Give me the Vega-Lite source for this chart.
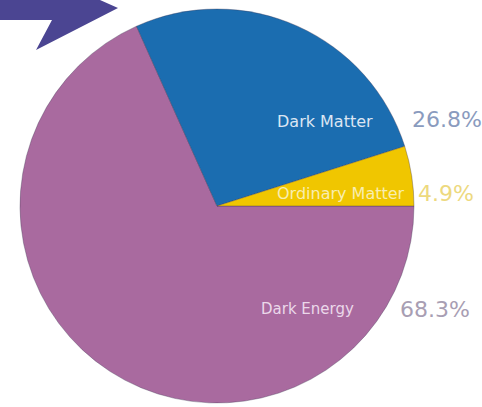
{
  "$schema": "https://vega.github.io/schema/vega-lite/v6.json",
  "autosize": {"type": "none"},
  "padding": {"left": 0, "top": 0, "right": 48, "bottom": 0},
  "width": 434,
  "height": 412,
  "background": "white",
  "config": {"view": {"stroke": null}},
  "data": {
    "values": [
      {"component": "Dark Energy", "share": 0.683},
      {"component": "Dark Matter", "share": 0.268},
      {"component": "Ordinary Matter", "share": 0.049}
    ]
  },
  "layer": [
    {
      "data": {"values": [{"item": "arrow"}]},
      "mark": {
        "type": "point",
        "shape": "M-227,-216 L-139.5,-216 L-99,-198 L-181,-156 L-165,-186 L-227,-186 Z",
        "size": 4,
        "filled": true,
        "fill": "#4B4592",
        "strokeWidth": 0,
        "opacity": 1
      },
      "encoding": {}
    },
    {
      "mark": {"type": "arc", "outerRadius": 197, "stroke": "#3b3350", "strokeOpacity": 0.35, "strokeWidth": 1},
      "encoding": {
        "theta": {"field": "share", "type": "quantitative", "stack": true, "scale": {"range": [1.5708, 7.8540]}},
        "color": {
          "field": "component",
          "type": "nominal",
          "scale": {"domain": ["Dark Energy", "Dark Matter", "Ordinary Matter"], "range": ["#A96A9F", "#1B6DB0", "#F0C600"]},
          "legend": null
        },
        "order": {"field": "component", "type": "nominal"}
      }
    },
    {
      "transform": [{"filter": "datum.component === 'Dark Matter'"}],
      "mark": {"type": "text", "align": "left", "baseline": "middle", "dx": 60, "dy": -84, "font": "DejaVu Sans", "fontSize": 16, "fill": "#DCE6F3"},
      "encoding": {"text": {"field": "component", "type": "nominal"}}
    },
    {
      "transform": [{"filter": "datum.component === 'Ordinary Matter'"}],
      "mark": {"type": "text", "align": "left", "baseline": "middle", "dx": 60, "dy": -12, "font": "DejaVu Sans", "fontSize": 16, "fill": "#F8EDB0"},
      "encoding": {"text": {"field": "component", "type": "nominal"}}
    },
    {
      "transform": [{"filter": "datum.component === 'Dark Energy'"}],
      "mark": {"type": "text", "align": "left", "baseline": "middle", "dx": 44, "dy": 103, "font": "DejaVu Sans", "fontSize": 15, "fill": "#EBD8EA"},
      "encoding": {"text": {"field": "component", "type": "nominal"}}
    },
    {
      "transform": [{"filter": "datum.component === 'Dark Matter'"}],
      "mark": {"type": "text", "align": "left", "baseline": "middle", "dx": 195, "dy": -86, "font": "DejaVu Sans", "fontSize": 22, "fill": "#8A9BBE"},
      "encoding": {"text": {"field": "share", "type": "quantitative", "format": ".1%"}}
    },
    {
      "transform": [{"filter": "datum.component === 'Ordinary Matter'"}],
      "mark": {"type": "text", "align": "left", "baseline": "middle", "dx": 201, "dy": -12, "font": "DejaVu Sans", "fontSize": 22, "fill": "#EDD97E"},
      "encoding": {"text": {"field": "share", "type": "quantitative", "format": ".1%"}}
    },
    {
      "transform": [{"filter": "datum.component === 'Dark Energy'"}],
      "mark": {"type": "text", "align": "left", "baseline": "middle", "dx": 183, "dy": 104, "font": "DejaVu Sans", "fontSize": 22, "fill": "#A89EB3"},
      "encoding": {"text": {"field": "share", "type": "quantitative", "format": ".1%"}}
    }
  ]
}
